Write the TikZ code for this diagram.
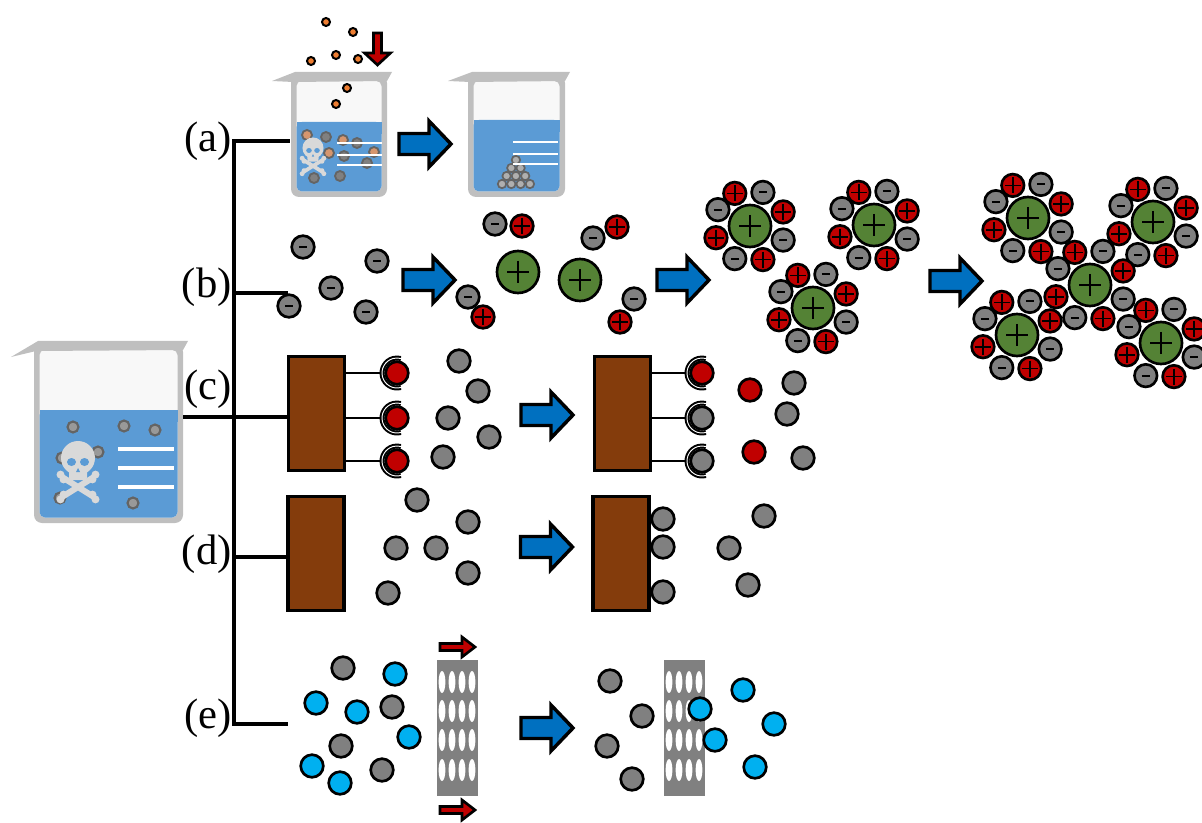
\documentclass[tikz,border=0pt]{standalone}
\usepackage{fontspec}
\setmainfont{Liberation Serif}
\definecolor{frame}{RGB}{191,191,191}
\definecolor{glass}{RGB}{248,248,248}
\definecolor{liq}{RGB}{91,155,213}
\definecolor{bone}{RGB}{217,217,217}
\definecolor{pgray}{RGB}{128,128,128}
\definecolor{rimgray}{RGB}{100,100,100}
\definecolor{lgray}{RGB}{175,175,175}
\definecolor{pred}{RGB}{192,0,0}
\definecolor{pgreen}{RGB}{84,130,53}
\definecolor{pblue}{RGB}{0,176,240}
\definecolor{ablue}{RGB}{0,112,192}
\definecolor{sorbent}{RGB}{132,60,12}
\definecolor{porange}{RGB}{237,125,49}
\definecolor{mutedorange}{RGB}{214,150,110}

% beaker: left, right, rim top, bottom, liquid level, spout tip x, spout tip y
\newcommand\drawbeaker[7]{%
  \fill[frame, rounded corners=6pt] (#1,#3+3) rectangle (#2,#4);
  \fill[glass, rounded corners=4pt] (#1+5.5,#3+9) rectangle (#2-5.5,#4-5.5);
  \fill[liq, rounded corners=4pt] (#1+5.5,#5) rectangle (#2-5.5,#4-5.5);
  \fill[liq] (#1+5.5,#5) rectangle (#2-5.5,#5+12);
  \fill[frame] (#6,#7) -- (#1+4,#3) -- (#2+5,#3) -- (#2,#3+9) -- (#1+2,#3+10) -- cycle;
}

% skull and crossbones: cranium centre x, y, scale
\newcommand\skullmark[3]{%
  \begin{scope}[shift={(#1,#2)}, scale=#3]
    \draw[bone, line width=#3*4.5pt] (-16,19) -- (16,39) (16,19) -- (-16,39);
    \fill[bone] (-17.5,16.6) circle (4) (-14.5,21.4) circle (4)
                (17.5,16.6) circle (4) (14.5,21.4) circle (4)
                (-17.5,41.4) circle (4) (-14.5,36.6) circle (4)
                (17.5,41.4) circle (4) (14.5,36.6) circle (4);
    \fill[bone] (0,0) circle (17);
    \fill[bone, rounded corners=2pt] (-9,6) rectangle (9,22);
    \fill[liq] (-6.5,4) ellipse (4.5 and 4) (6.5,4) ellipse (4.5 and 4);
    \fill[liq] (0,10) -- (-2,14) -- (2,14) -- cycle;
  \end{scope}}

\begin{document}
\begin{tikzpicture}[x=0.75pt, y=-0.75pt,
  bracket/.style={line width=2.6pt},
  tag/.style={anchor=east, inner sep=0pt, font=\fontsize{32}{36}\selectfont},
  sorb/.style={draw, fill=sorbent, line width=2.3pt, minimum width=42pt,
               minimum height=86pt, inner sep=0pt},
  grain/.style={draw, line width=2pt},
  tether/.style={line width=1.8pt},
  cup/.style={double=white, double distance=0.7pt, line width=1.5pt},
  anion/.pic={\draw[fill=pgray, line width=2pt] (0,0) circle (11.3);
              \draw[line width=1.5pt] (-4,0) -- (4,0);},
  cation/.pic={\draw[fill=pred, line width=2pt] (0,0) circle (11.3);
               \draw[line width=1.3pt] (-8,0) -- (8,0) (0,-8) -- (0,8);},
  core/.pic={\draw[fill=pgreen, line width=2pt] (0,0) circle (21);
             \draw[line width=1.4pt] (-11,0) -- (11,0) (0,-11) -- (0,11);},
  cluster/.pic={\pic at (0,0) {core};
    \foreach \k in {0,...,7}{\pgfmathsetmacro\ang{46*\k-115}
      \ifodd\k\relax \pic at (\ang:36) {anion};\else \pic at (\ang:36) {cation};\fi}},
  flow/.pic={\draw[fill=ablue, line width=2.6pt] (0,-10.5) -- (30,-10.5) -- (30,-23)
             -- (52,0) -- (30,23) -- (30,10.5) -- (0,10.5) -- cycle;},
  push/.pic={\draw[fill=pred, line width=2pt] (0,-3.5) -- (22,-3.5) -- (22,-10)
             -- (35,0) -- (22,10) -- (22,3.5) -- (0,3.5) -- cycle;}
]
\useasboundingbox (0,0) rectangle (1202,823);
\clip (0,0) rectangle (1202,823);

% ---------- source beaker with contaminated water ----------
\drawbeaker{34}{183}{341}{523}{410}{11}{357}
\foreach \p in {(73,427),(124,426),(155,430),(98,452),(62,458),(60,498),(133,503)}
  \draw[draw=rimgray, fill=pgray!80, line width=1.6pt] \p circle (5.5);
\skullmark{78}{458}{1}
\foreach \yy in {449,468,487}
  \draw[white, line width=3pt] (118,\yy) -- (174,\yy);
\coordinate (beakR) at (183,417);

% ---------- branching bracket and labels ----------
\coordinate (ja) at (234,141);
\coordinate (jb) at (234,293);
\coordinate (jc) at (234,417);
\coordinate (jd) at (234,557);
\coordinate (je) at (234,724);
\draw[bracket, line cap=rect] (ja) -- (je);
\node[tag] (la) at (232,141) {(a)};
\node[tag] (lb) at (232,287) {(b)};
\node[tag] (lc) at (232,389) {(c)};
\node[tag] (ld) at (232,554) {(d)};
\node[tag] (le) at (232,718) {(e)};

% ---------- (a) precipitation ----------
\drawbeaker{291}{387}{72}{197}{122}{272}{81}
\foreach \p in {(326,137),(357,143),(344,156),(367,163),(340,176),(314,178)}
  \draw[draw=rimgray, fill=pgray, line width=1.4pt] \p circle (5);
\foreach \p in {(307,135),(343,140),(329,153),(374,152)}
  \draw[draw=rimgray, fill=mutedorange, line width=1.4pt] \p circle (5);
\skullmark{313}{148}{0.62}
\foreach \yy in {143,155,165}
  \draw[white, line width=2.2pt] (337,\yy) -- (382,\yy);
\foreach \p in {(326,22),(353,32),(311,61),(336,55),(358,59),(347,88),(336,104)}
  \draw[fill=porange, line width=1.5pt] \p circle (4);
\draw[fill=pred, line width=2pt] (373.5,33) -- (381.5,33) -- (381.5,53) -- (390.5,53)
  -- (377.5,65) -- (364.5,53) -- (373.5,53) -- cycle;
\pic at (399,144) {flow};
\drawbeaker{468}{565}{72}{197}{120}{448}{81}
\foreach \p in {(502,184),(511.3,184),(520.6,184),(529.9,184),
                (506.6,176),(515.9,176),(525.2,176),
                (511.3,168),(520.6,168),(515.9,160)}
  \draw[draw=rimgray, fill=lgray, line width=1.3pt] \p circle (4.2);
\foreach \yy in {142,154,164}
  \draw[white, line width=2.2pt] (513,\yy) -- (558,\yy);
\draw[bracket] (ja) -- (290,141);

% ---------- (b) coagulation ----------
\draw[bracket] (jb) -- (288,293);
\foreach \p in {(303,247),(377,261),(331,288),(289,306),(366,312)}
  \pic at \p {anion};
\pic at (403,280) {flow};
\pic at (518,272) {core};
\pic at (580,280) {core};
\pic at (495,224) {anion}; \pic at (522,226) {cation};
\pic at (468,297) {anion}; \pic at (483,317) {cation};
\pic at (593,238) {anion}; \pic at (617,227) {cation};
\pic at (634,299) {anion}; \pic at (620,322) {cation};
\pic at (657,280) {flow};
\pic at (750,226) {cluster};
\pic at (874,225) {cluster};
\pic at (813,308) {cluster};
\pic at (930,281) {flow};
\pic at (1028,218) {cluster};
\pic at (1153,222) {cluster};
\pic at (1090,285) {cluster};
\pic at (1017,335) {cluster};
\pic at (1161,343) {cluster};

% ---------- (c) ion exchange ----------
\node[sorb] (bc1) at (316.5,413.5) {};
\draw[bracket] (beakR) -- (bc1.west |- beakR);
\foreach \yy/\col in {373/pred,418/pred,461/pred}{
  \coordinate (cupin) at (382,\yy);
  \draw[tether] (bc1.east |- cupin) -- (cupin);
  \draw[cup] (397,\yy) ++(75:15) arc[start angle=75, end angle=285, radius=15];
  \draw[grain, fill=\col] (397,\yy) circle (11.3);
}
\foreach \p in {(459,361),(478,391),(448,418),(489,437),(443,457)}
  \draw[grain, fill=pgray] \p circle (11.3);
\pic at (521,415) {flow};
\node[sorb] (bc2) at (622.5,413.5) {};
\foreach \yy/\col in {373/pred,418/pgray,461/pgray}{
  \coordinate (cupin) at (687,\yy);
  \draw[tether] (bc2.east |- cupin) -- (cupin);
  \draw[cup] (702,\yy) ++(75:15) arc[start angle=75, end angle=285, radius=15];
  \draw[grain, fill=\col] (702,\yy) circle (11.3);
}
\foreach \p in {(750,390),(754,452)}
  \draw[grain, fill=pred] \p circle (11.3);
\foreach \p in {(794,383),(787,414),(803,458)}
  \draw[grain, fill=pgray] \p circle (11.3);

% ---------- (d) adsorption ----------
\node[sorb] (bd1) at (316,553.5) {};
\draw[bracket] (jd) -- (bd1.west |- jd);
\foreach \p in {(417,500),(468,522),(396,548),(436,548),(468,573),(388,593)}
  \draw[grain, fill=pgray] \p circle (11.3);
\pic at (520.5,547) {flow};
\node[sorb] (bd2) at (621,553.5) {};
\foreach \p in {(663,519),(663,547),(663,592),(764,516),(729,548),(748,585)}
  \draw[grain, fill=pgray] \p circle (11.3);

% ---------- (e) membrane filtration ----------
\draw[bracket] (je) -- (288,724);
\foreach \p in {(343,668),(392,707),(341,746),(382,770)}
  \draw[grain, fill=pgray] \p circle (11.3);
\foreach \p in {(395,674),(316,703),(357,712),(409,737),(312,766),(340,783)}
  \draw[grain, fill=pblue] \p circle (11.3);
\fill[pgray] (437,660) rectangle (478,796);
\foreach \cx in {442,452,462,472}
  \foreach \cy in {682,711,740,770}
    \fill[white] (\cx,\cy) ellipse (3.4 and 11);
\pic at (440,647) {push};
\pic at (440,810) {push};
\pic at (521,728) {flow};
\foreach \p in {(610,681),(642,716),(607,746),(632,779)}
  \draw[grain, fill=pgray] \p circle (11.3);
\fill[pgray] (664,660) rectangle (705,796);
\foreach \cx in {669,679,689,699}
  \foreach \cy in {682,711,740,770}
    \fill[white] (\cx,\cy) ellipse (3.4 and 11);
\foreach \p in {(700,709),(743,690),(715,740),(774,724),(755,767)}
  \draw[grain, fill=pblue] \p circle (11.3);
\end{tikzpicture}
\end{document}
